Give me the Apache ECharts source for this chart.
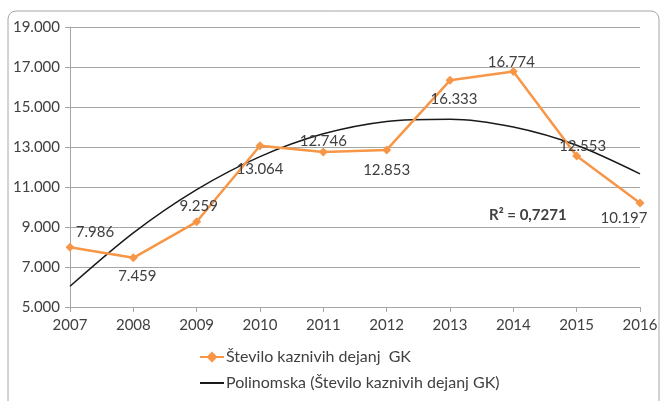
<!DOCTYPE html>
<html>
<head>
<meta charset="utf-8">
<script src="https://cdn.jsdelivr.net/npm/echarts@6/dist/echarts.min.js"></script>
<style>
  html, body { margin: 0; padding: 0; background: #fff; }
  #chart { width: 661px; height: 401px; }
</style>
</head>
<body>
<div id="chart"></div>
<script>
const years = ['2007', '2008', '2009', '2010', '2011', '2012', '2013', '2014', '2015', '2016'];
const offences = [7986, 7459, 9259, 13064, 12746, 12853, 16333, 16774, 12553, 10197];
// trend line at each year
const trend = [6040, 8710, 10870, 12520, 13660, 14280, 14390, 14000, 13090, 11660];
// where each value label sits relative to its point
const labelShift = [[25, -15], [4, 18], [2, -16], [0, 23], [0, -11], [0, 20], [4, 19], [-2, -9], [6, -10], [-16, 15]];

const FONT = 'Lato, "Open Sans", sans-serif';
const TEXT = '#404040';

const fmt = v => (v / 1000).toFixed(3);

const chart = echarts.init(document.getElementById('chart'));
chart.setOption({
  animation: false,
  textStyle: { fontFamily: FONT },
  grid: { left: 70, right: 21, top: 27, bottom: 94 },
  graphic: [
    {
      type: 'rect',
      shape: { x: 8, y: 11, width: 651, height: 400, r: 8 },
      style: { fill: 'none', stroke: '#a6a6a6', lineWidth: 1 },
      silent: true
    },
    {
      type: 'text',
      left: 489, top: 208,
      style: { text: 'R² = 0,7271', font: 'bold 15px ' + FONT, fill: TEXT }
    }
  ],
  legend: {
    orient: 'vertical',
    left: 194, top: 344,
    itemGap: 10,
    itemWidth: 24, itemHeight: 14,
    textStyle: { fontSize: 16, color: TEXT, fontFamily: FONT, padding: [0, 0, 0, -3] },
    data: [
      { name: 'Število kaznivih dejanj  GK' },
      { name: 'Polinomska (Število kaznivih dejanj GK)', icon: 'path://M0,0 L24,0 L24,2 L0,2 Z' }
    ]
  },
  xAxis: {
    type: 'category',
    data: years,
    boundaryGap: false,
    axisLine: { lineStyle: { color: '#a6a6a6' } },
    axisTick: { show: true, length: 5, lineStyle: { color: '#a6a6a6' } },
    axisLabel: { color: TEXT, fontSize: 15, margin: 11, fontFamily: FONT },
    splitLine: { show: false }
  },
  yAxis: {
    type: 'value',
    min: 5000, max: 19000, interval: 2000,
    axisLine: { show: true, lineStyle: { color: '#a6a6a6' } },
    axisTick: { show: true, length: 5, lineStyle: { color: '#a6a6a6' } },
    axisLabel: { color: TEXT, fontSize: 15, margin: 10, fontFamily: FONT, formatter: fmt },
    splitLine: { lineStyle: { color: '#a6a6a6' } }
  },
  series: [
    {
      name: 'Polinomska (Število kaznivih dejanj GK)',
      type: 'line',
      data: trend,
      smooth: 0.3,
      symbol: 'none',
      lineStyle: { color: '#1a1a1a', width: 1.5 },
      itemStyle: { color: '#1a1a1a' },
      z: 3
    },
    {
      name: 'Število kaznivih dejanj  GK',
      type: 'line',
      data: offences.map((v, i) => ({
        value: v,
        label: { offset: labelShift[i] }
      })),
      symbol: 'diamond',
      symbolSize: 9,
      lineStyle: { color: '#f79646', width: 2.5 },
      itemStyle: { color: '#f79646' },
      label: {
        show: true,
        position: 'inside',
        color: TEXT,
        fontSize: 15,
        fontFamily: FONT,
        formatter: p => fmt(p.value)
      },
      z: 4
    }
  ]
});
</script>
</body>
</html>
